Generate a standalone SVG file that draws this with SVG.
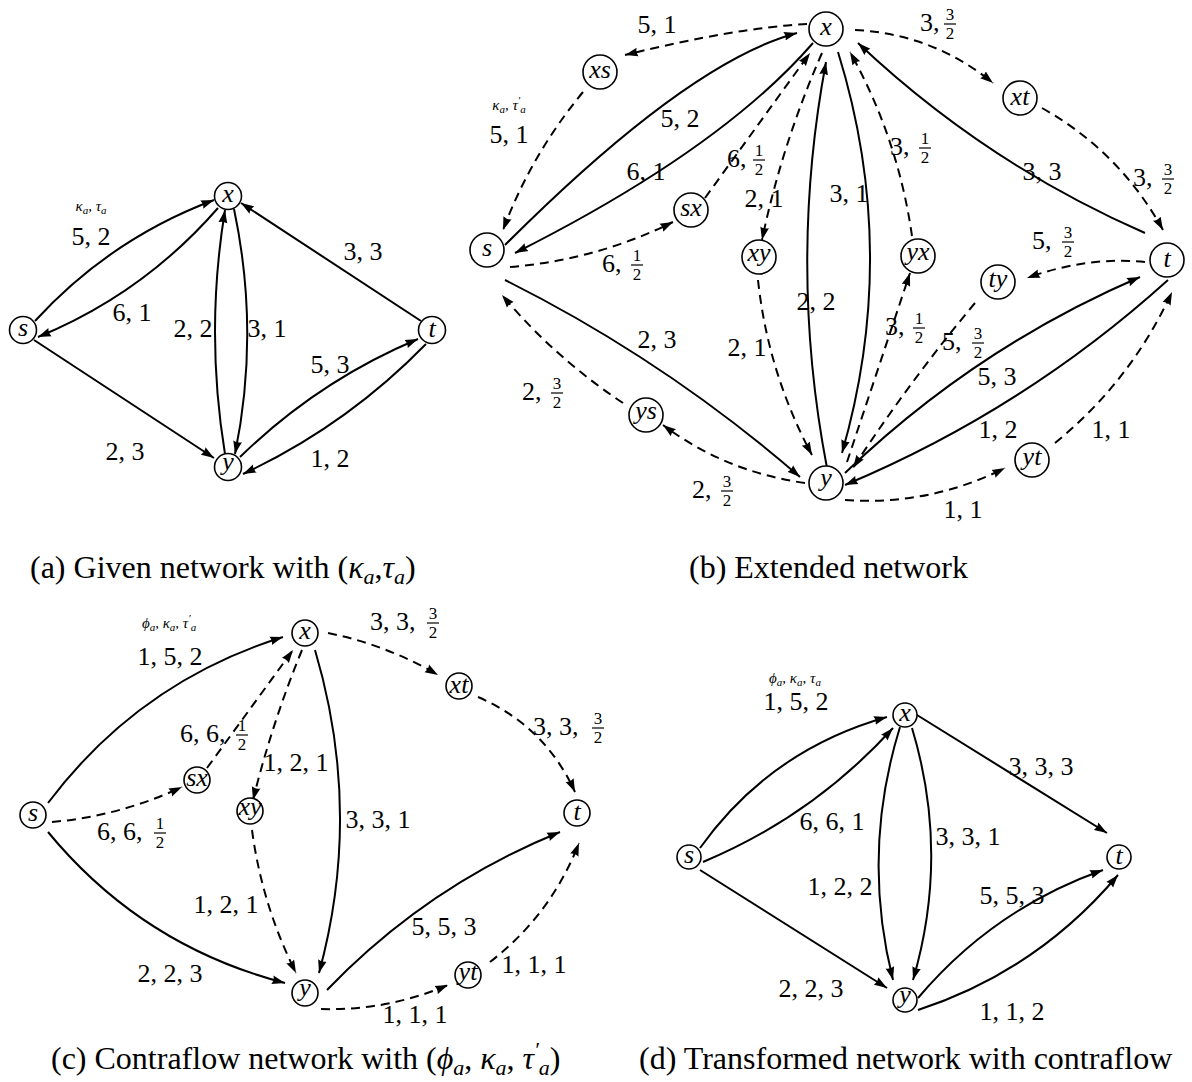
<svg xmlns="http://www.w3.org/2000/svg" width="1192" height="1082" viewBox="0 0 1192 1082" font-family="'Liberation Serif', 'Times New Roman', serif">
<defs>
<marker id="ah" viewBox="0 0 13 10" refX="13" refY="5" markerWidth="13" markerHeight="10" markerUnits="userSpaceOnUse" orient="auto">
<path d="M0,0.6 L13,5 L0,9.4 Q2.2,5 0,0.6 Z" fill="#000"/>
</marker>
<style>
.e{fill:none;stroke:#000;stroke-width:2;marker-end:url(#ah)}
.d{stroke-dasharray:9 6}
.n circle{fill:#fff;stroke:#000;stroke-width:1.6}
.n text{font-family:'Liberation Serif','Times New Roman',serif;font-style:italic;font-size:26px;text-anchor:middle}
.l{font-family:'Liberation Serif','Times New Roman',serif;font-size:26px;text-anchor:middle}
.ls{text-anchor:start}
.f{font-family:'Liberation Serif','Times New Roman',serif;font-size:17px;text-anchor:middle}
.fb{stroke:#000;stroke-width:1.2}
.sm{font-family:'Liberation Serif','Times New Roman',serif;font-size:15px;font-style:italic;text-anchor:middle}
.sb{font-size:11px}
.cap{font-family:'Liberation Serif','Times New Roman',serif;font-size:32px}
.ci{font-style:italic}
.cs{font-style:italic;font-size:22px}
</style>
</defs>

<!-- ================= Panel (a) ================= -->
<g id="panel-a">
<g id="a-edges">
<path class="e" d="M35,321 Q110,239 214,200"/>
<path class="e" d="M218,208 Q143,294 38,337"/>
<path class="e" d="M225,454 Q205,332 225,210"/>
<path class="e" d="M234,209 Q260,332 235,454"/>
<path class="e" d="M421,321 L241,203"/>
<path class="e" d="M240,457 Q318,381 418,339"/>
<path class="e" d="M426,344 Q346,426 243,474"/>
<path class="e" d="M34,340 L214,458"/>
</g>
<g id="a-labels">
<text class="sm" x="91" y="211">κ<tspan class="sb" dy="3">a</tspan><tspan dy="-3">, τ</tspan><tspan class="sb" dy="3">a</tspan></text>
<text class="l" x="91" y="245">5, 2</text>
<text class="l" x="132" y="321">6, 1</text>
<text class="l" x="193" y="337">2, 2</text>
<text class="l" x="267" y="337">3, 1</text>
<text class="l" x="363" y="260">3, 3</text>
<text class="l" x="330" y="373">5, 3</text>
<text class="l" x="330" y="467">1, 2</text>
<text class="l" x="125" y="460">2, 3</text>
</g>
<g id="a-s" class="n"><circle cx="23" cy="330" r="13.5"/><text x="23" y="336">s</text></g>
<g id="a-x" class="n"><circle cx="228" cy="196" r="13.5"/><text x="228" y="202">x</text></g>
<g id="a-t" class="n"><circle cx="432" cy="330" r="13.5"/><text x="432" y="337">t</text></g>
<g id="a-y" class="n"><circle cx="228" cy="467" r="13.5"/><text x="228" y="470">y</text></g>
<text class="cap" x="30" y="578">(a) Given network with (<tspan class="ci">κ</tspan><tspan class="cs" dy="6">a</tspan><tspan dy="-6">,</tspan><tspan class="ci">τ</tspan><tspan class="cs" dy="6">a</tspan><tspan dy="-6">)</tspan></text>
</g>

<!-- ================= Panel (b) ================= -->
<g id="panel-b">
<g id="b-edges">
<path class="e d" d="M807,24 Q735,28 625,55"/>
<path class="e d" d="M583,92 Q531,155 503,230"/>
<path class="e" d="M505,245 Q688,62 797,33"/>
<path class="e" d="M813,43 Q720,150 515,253"/>
<path class="e d" d="M510,267 Q596,260 673,222"/>
<path class="e d" d="M705,198 L810,53"/>
<path class="e d" d="M822,53 Q782,144 762,240"/>
<path class="e d" d="M758,280 Q768,373 812,455"/>
<path class="e" d="M827,468 Q788,265 826,62"/>
<path class="e" d="M838,52 Q900,252 842,453"/>
<path class="e d" d="M912,236 Q898,138 850,52"/>
<path class="e d" d="M847,462 L910,273"/>
<path class="e d" d="M855,30 Q933,34 993,83"/>
<path class="e d" d="M1042,108 Q1120,152 1163,230"/>
<path class="e" d="M1145,233 Q985,163 858,43"/>
<path class="e d" d="M1145,262 Q1088,256 1027,278"/>
<path class="e d" d="M975,303 Q909,382 853,468"/>
<path class="e" d="M845,473 Q975,348 1140,277"/>
<path class="e" d="M1168,280 Q1024,410 845,485"/>
<path class="e d" d="M845,500 Q929,506 1005,468"/>
<path class="e d" d="M1055,443 Q1131,381 1172,292"/>
<path class="e d" d="M805,483 Q726,472 663,425"/>
<path class="e d" d="M623,403 Q555,358 502,295"/>
<path class="e" d="M505,280 Q665,360 800,477"/>
</g>
<g id="b-labels">
<text class="l" x="657" y="33">5, 1</text>
<text class="sm" x="509" y="110">κ<tspan class="sb" dy="3">a</tspan><tspan dy="-3">, τ</tspan><tspan class="sb" dy="-6">′</tspan><tspan class="sb" dy="9">a</tspan></text>
<text class="l" x="509" y="143">5, 1</text>
<text class="l" x="680" y="127">5, 2</text>
<text class="l" x="646" y="180">6, 1</text>
<text class="l" x="764" y="207">2, 1</text>
<text class="l" x="747" y="356">2, 1</text>
<text class="l" x="816" y="310">2, 2</text>
<text class="l" x="849" y="202">3, 1</text>
<text class="l" x="1042" y="180">3, 3</text>
<text class="l" x="997" y="385">5, 3</text>
<text class="l" x="998" y="438">1, 2</text>
<text class="l" x="1111" y="438">1, 1</text>
<text class="l" x="963" y="518">1, 1</text>
<text class="l" x="657" y="348">2, 3</text>
<!-- fraction labels -->
<g><text class="l ls" x="602" y="272">6,</text><text class="f" x="637" y="261">1</text><line class="fb" x1="631" y1="265" x2="643" y2="265"/><text class="f" x="637" y="280">2</text></g>
<g><text class="l ls" x="727" y="167">6,</text><text class="f" x="759" y="156">1</text><line class="fb" x1="753" y1="160" x2="765" y2="160"/><text class="f" x="759" y="175">2</text></g>
<g><text class="l ls" x="890" y="155">3,</text><text class="f" x="925" y="144">1</text><line class="fb" x1="919" y1="148" x2="931" y2="148"/><text class="f" x="925" y="163">2</text></g>
<g><text class="l ls" x="920" y="31">3,</text><text class="f" x="950" y="20">3</text><line class="fb" x1="944" y1="24" x2="956" y2="24"/><text class="f" x="950" y="39">2</text></g>
<g><text class="l ls" x="1133" y="186">3,</text><text class="f" x="1168" y="175">3</text><line class="fb" x1="1162" y1="179" x2="1174" y2="179"/><text class="f" x="1168" y="194">2</text></g>
<g><text class="l ls" x="1032" y="249">5,</text><text class="f" x="1068" y="238">3</text><line class="fb" x1="1062" y1="242" x2="1074" y2="242"/><text class="f" x="1068" y="257">2</text></g>
<g><text class="l ls" x="942" y="350">5,</text><text class="f" x="978" y="339">3</text><line class="fb" x1="972" y1="343" x2="984" y2="343"/><text class="f" x="978" y="358">2</text></g>
<g><text class="l ls" x="885" y="335">3,</text><text class="f" x="919" y="324">1</text><line class="fb" x1="913" y1="328" x2="925" y2="328"/><text class="f" x="919" y="343">2</text></g>
<g><text class="l ls" x="692" y="498">2,</text><text class="f" x="727" y="487">3</text><line class="fb" x1="721" y1="491" x2="733" y2="491"/><text class="f" x="727" y="506">2</text></g>
<g><text class="l ls" x="522" y="400">2,</text><text class="f" x="557" y="389">3</text><line class="fb" x1="551" y1="393" x2="563" y2="393"/><text class="f" x="557" y="408">2</text></g>
</g>
<g id="b-x" class="n"><circle cx="826" cy="29" r="17"/><text x="826" y="35">x</text></g>
<g id="b-xs" class="n"><circle cx="600" cy="72" r="17"/><text x="600" y="78">xs</text></g>
<g id="b-s" class="n"><circle cx="487" cy="250" r="17"/><text x="487" y="256">s</text></g>
<g id="b-sx" class="n"><circle cx="691" cy="210" r="17"/><text x="691" y="216">sx</text></g>
<g id="b-xy" class="n"><circle cx="759" cy="257" r="17"/><text x="759" y="261">xy</text></g>
<g id="b-xt" class="n"><circle cx="1020" cy="98" r="17"/><text x="1020" y="105">xt</text></g>
<g id="b-yx" class="n"><circle cx="918" cy="256" r="17"/><text x="918" y="260">yx</text></g>
<g id="b-ty" class="n"><circle cx="998" cy="282" r="17"/><text x="998" y="287">ty</text></g>
<g id="b-t" class="n"><circle cx="1167" cy="260" r="17"/><text x="1167" y="267">t</text></g>
<g id="b-ys" class="n"><circle cx="646" cy="415" r="17"/><text x="646" y="419">ys</text></g>
<g id="b-yt" class="n"><circle cx="1032" cy="460" r="17"/><text x="1032" y="465">yt</text></g>
<g id="b-y" class="n"><circle cx="826" cy="483" r="17"/><text x="826" y="486">y</text></g>
<text class="cap" x="689" y="578">(b) Extended network</text>
</g>

<!-- ================= Panel (c) ================= -->
<g id="panel-c">
<g id="c-edges">
<path class="e" d="M48,803 Q139,682 283,637"/>
<path class="e d" d="M52,822 Q120,816 182,787"/>
<path class="e d" d="M207,768 L293,650"/>
<path class="e d" d="M302,650 Q272,723 253,800"/>
<path class="e d" d="M252,830 Q262,905 296,973"/>
<path class="e" d="M315,650 Q363,812 319,973"/>
<path class="e d" d="M328,633 Q387,645 438,675"/>
<path class="e d" d="M478,697 Q545,726 575,792"/>
<path class="e" d="M48,832 Q142,946 285,983"/>
<path class="e" d="M327,990 Q427,886 560,832"/>
<path class="e d" d="M321,1009 Q387,1011 448,985"/>
<path class="e d" d="M490,962 Q551,915 579,843"/>
</g>
<g id="c-labels">
<text class="sm" x="169" y="628"><tspan>ϕ</tspan><tspan class="sb" dy="3">a</tspan><tspan dy="-3">, κ</tspan><tspan class="sb" dy="3">a</tspan><tspan dy="-3">, τ</tspan><tspan class="sb" dy="-6">′</tspan><tspan class="sb" dy="9">a</tspan></text>
<text class="l" x="170" y="665">1, 5, 2</text>
<text class="l" x="296" y="771">1, 2, 1</text>
<text class="l" x="378" y="828">3, 3, 1</text>
<text class="l" x="226" y="913">1, 2, 1</text>
<text class="l" x="170" y="982">2, 2, 3</text>
<text class="l" x="444" y="935">5, 5, 3</text>
<text class="l" x="534" y="973">1, 1, 1</text>
<text class="l" x="415" y="1023">1, 1, 1</text>
<g><text class="l ls" x="180" y="742">6, 6,</text><text class="f" x="242" y="731">1</text><line class="fb" x1="236" y1="735" x2="248" y2="735"/><text class="f" x="242" y="750">2</text></g>
<g><text class="l ls" x="97" y="840">6, 6,</text><text class="f" x="160" y="829">1</text><line class="fb" x1="154" y1="833" x2="166" y2="833"/><text class="f" x="160" y="848">2</text></g>
<g><text class="l ls" x="370" y="630">3, 3,</text><text class="f" x="433" y="619">3</text><line class="fb" x1="427" y1="623" x2="439" y2="623"/><text class="f" x="433" y="638">2</text></g>
<g><text class="l ls" x="533" y="735">3, 3,</text><text class="f" x="598" y="724">3</text><line class="fb" x1="592" y1="728" x2="604" y2="728"/><text class="f" x="598" y="743">2</text></g>
</g>
<g id="c-x" class="n"><circle cx="305" cy="633" r="13"/><text x="305" y="639">x</text></g>
<g id="c-s" class="n"><circle cx="33" cy="815" r="13"/><text x="33" y="821">s</text></g>
<g id="c-sx" class="n"><circle cx="197" cy="780" r="13"/><text x="197" y="786">sx</text></g>
<g id="c-xy" class="n"><circle cx="250" cy="811" r="13"/><text x="250" y="815">xy</text></g>
<g id="c-xt" class="n"><circle cx="459" cy="686" r="13"/><text x="459" y="693">xt</text></g>
<g id="c-t" class="n"><circle cx="577" cy="813" r="13"/><text x="577" y="820">t</text></g>
<g id="c-y" class="n"><circle cx="305" cy="993" r="13"/><text x="305" y="996">y</text></g>
<g id="c-yt" class="n"><circle cx="468" cy="975" r="13"/><text x="468" y="980">yt</text></g>
<text class="cap" x="51" y="1069">(c) Contraflow network with (<tspan class="ci">ϕ</tspan><tspan class="cs" dy="6">a</tspan><tspan dy="-6">, </tspan><tspan class="ci">κ</tspan><tspan class="cs" dy="6">a</tspan><tspan dy="-6">, </tspan><tspan class="ci">τ</tspan><tspan class="cs" dy="-12">′</tspan><tspan class="cs" dy="18">a</tspan><tspan dy="-6">)</tspan></text>
</g>

<!-- ================= Panel (d) ================= -->
<g id="panel-d">
<g id="d-edges">
<path class="e" d="M700,848 Q770,750 887,717"/>
<path class="e" d="M703,862 Q813,816 893,728"/>
<path class="e" d="M900,727 Q861,853 893,980"/>
<path class="e" d="M912,728 Q950,854 913,980"/>
<path class="e" d="M917,715 L1107,833"/>
<path class="e" d="M700,870 L887,988"/>
<path class="e" d="M918,998 Q993,909 1103,870"/>
<path class="e" d="M918,1010 Q1037,971 1118,875"/>
</g>
<g id="d-labels">
<text class="sm" x="795" y="683"><tspan>ϕ</tspan><tspan class="sb" dy="3">a</tspan><tspan dy="-3">, κ</tspan><tspan class="sb" dy="3">a</tspan><tspan dy="-3">, τ</tspan><tspan class="sb" dy="3">a</tspan></text>
<text class="l" x="796" y="710">1, 5, 2</text>
<text class="l" x="832" y="830">6, 6, 1</text>
<text class="l" x="840" y="895">1, 2, 2</text>
<text class="l" x="968" y="845">3, 3, 1</text>
<text class="l" x="1041" y="775">3, 3, 3</text>
<text class="l" x="1012" y="904">5, 5, 3</text>
<text class="l" x="811" y="997">2, 2, 3</text>
<text class="l" x="1012" y="1020">1, 1, 2</text>
</g>
<g id="d-x" class="n"><circle cx="905" cy="715" r="12"/><text x="905" y="721">x</text></g>
<g id="d-s" class="n"><circle cx="689" cy="857" r="12"/><text x="689" y="863">s</text></g>
<g id="d-t" class="n"><circle cx="1119" cy="857" r="12"/><text x="1119" y="864">t</text></g>
<g id="d-y" class="n"><circle cx="905" cy="1000" r="12"/><text x="905" y="1003">y</text></g>
<text class="cap" x="639" y="1069">(d) Transformed network with contraflow</text>
</g>
</svg>
